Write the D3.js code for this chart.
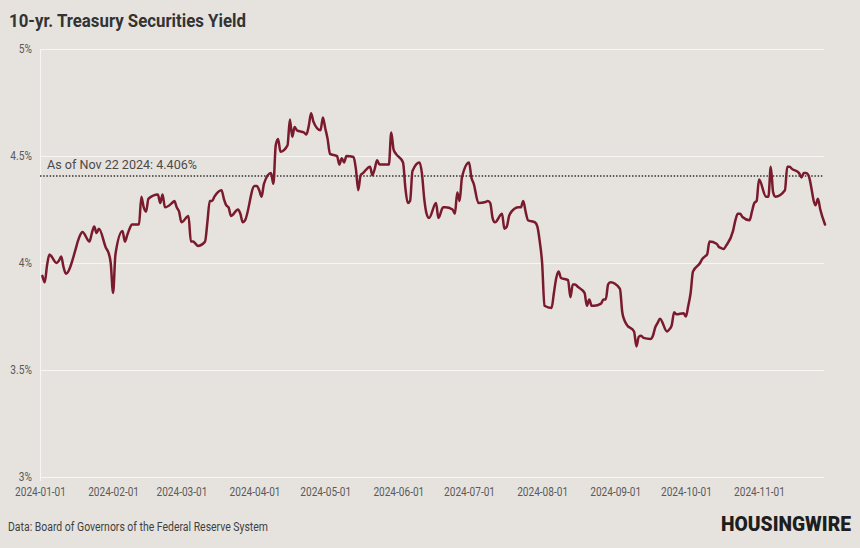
<!DOCTYPE html>
<html>
<head>
<meta charset="utf-8">
<script src="https://cdn.jsdelivr.net/npm/d3@7"></script>
<style>
  html, body { margin: 0; padding: 0; background: #e6e3df; }
  svg { display: block; font-family: Roboto, "Noto Sans", sans-serif; }
</style>
</head>
<body>
<svg id="chart" width="860" height="548"></svg>
<script>
// ---- data ----
const dates = [
  "2024-01-02","2024-01-03","2024-01-04","2024-01-05","2024-01-08","2024-01-09","2024-01-10","2024-01-11","2024-01-12",
  "2024-01-16","2024-01-17","2024-01-18","2024-01-19","2024-01-22","2024-01-23","2024-01-24","2024-01-25","2024-01-26",
  "2024-01-29","2024-01-30","2024-01-31","2024-02-01","2024-02-02","2024-02-05","2024-02-06","2024-02-07","2024-02-08",
  "2024-02-09","2024-02-12","2024-02-13","2024-02-14","2024-02-15","2024-02-16","2024-02-20","2024-02-21","2024-02-22",
  "2024-02-23","2024-02-26","2024-02-27","2024-02-28","2024-02-29","2024-03-01","2024-03-04","2024-03-05","2024-03-06",
  "2024-03-07","2024-03-08","2024-03-11","2024-03-12","2024-03-13","2024-03-14","2024-03-15","2024-03-18","2024-03-19",
  "2024-03-20","2024-03-21","2024-03-22","2024-03-25","2024-03-26","2024-03-27","2024-03-28","2024-04-01","2024-04-02",
  "2024-04-03","2024-04-04","2024-04-05","2024-04-08","2024-04-09","2024-04-10","2024-04-11","2024-04-12","2024-04-15",
  "2024-04-16","2024-04-17","2024-04-18","2024-04-19","2024-04-22","2024-04-23","2024-04-24","2024-04-25","2024-04-26",
  "2024-04-29","2024-04-30","2024-05-01","2024-05-02","2024-05-03","2024-05-06","2024-05-07","2024-05-08","2024-05-09",
  "2024-05-10","2024-05-13","2024-05-14","2024-05-15","2024-05-16","2024-05-17","2024-05-20","2024-05-21","2024-05-22",
  "2024-05-23","2024-05-24","2024-05-28","2024-05-29","2024-05-30","2024-05-31","2024-06-03","2024-06-04","2024-06-05",
  "2024-06-06","2024-06-07","2024-06-10","2024-06-11","2024-06-12","2024-06-13","2024-06-14","2024-06-17","2024-06-18",
  "2024-06-20","2024-06-21","2024-06-24","2024-06-25","2024-06-26","2024-06-27","2024-06-28","2024-07-01","2024-07-02",
  "2024-07-03","2024-07-05","2024-07-08","2024-07-09","2024-07-10","2024-07-11","2024-07-12","2024-07-15","2024-07-16",
  "2024-07-17","2024-07-18","2024-07-19","2024-07-22","2024-07-23","2024-07-24","2024-07-25","2024-07-26","2024-07-29",
  "2024-07-30","2024-07-31","2024-08-01","2024-08-02","2024-08-05","2024-08-06","2024-08-07","2024-08-08","2024-08-09",
  "2024-08-12","2024-08-13","2024-08-14","2024-08-15","2024-08-16","2024-08-19","2024-08-20","2024-08-21","2024-08-22",
  "2024-08-23","2024-08-26","2024-08-27","2024-08-28","2024-08-29","2024-08-30","2024-09-03","2024-09-04","2024-09-05",
  "2024-09-06","2024-09-09","2024-09-10","2024-09-11","2024-09-12","2024-09-13","2024-09-16","2024-09-17","2024-09-18",
  "2024-09-19","2024-09-20","2024-09-23","2024-09-24","2024-09-25","2024-09-26","2024-09-27","2024-09-30","2024-10-01",
  "2024-10-02","2024-10-03","2024-10-04","2024-10-07","2024-10-08","2024-10-09","2024-10-10","2024-10-11","2024-10-14",
  "2024-10-15","2024-10-16","2024-10-17","2024-10-18","2024-10-21","2024-10-22","2024-10-23","2024-10-24","2024-10-25",
  "2024-10-28","2024-10-29","2024-10-30","2024-10-31","2024-11-01","2024-11-04","2024-11-05","2024-11-06","2024-11-07",
  "2024-11-08","2024-11-12","2024-11-13","2024-11-14","2024-11-15","2024-11-18","2024-11-19","2024-11-20","2024-11-21",
  "2024-11-22","2024-11-25","2024-11-26","2024-11-27","2024-11-29"
];
const yields = [
  3.94,3.91,3.99,4.04,4.00,4.01,4.03,3.98,3.95,
  4.06,4.10,4.13,4.145,4.10,4.14,4.17,4.14,4.16,
  4.07,4.05,4.00,3.86,4.04,4.15,4.10,4.13,4.16,
  4.18,4.18,4.31,4.26,4.24,4.30,4.32,4.28,4.32,
  4.26,4.28,4.29,4.26,4.24,4.19,4.22,4.10,4.10,
  4.09,4.08,4.10,4.19,4.29,4.29,4.31,4.34,4.30,
  4.27,4.26,4.22,4.25,4.23,4.19,4.20,4.36,4.36,
  4.34,4.31,4.37,4.42,4.37,4.55,4.58,4.52,4.55,
  4.67,4.59,4.635,4.62,4.61,4.60,4.64,4.70,4.66,
  4.62,4.68,4.63,4.58,4.51,4.50,4.46,4.49,4.47,
  4.50,4.495,4.44,4.34,4.41,4.42,4.45,4.41,4.44,
  4.48,4.46,4.46,4.61,4.53,4.51,4.47,4.35,4.28,
  4.29,4.43,4.47,4.42,4.30,4.23,4.21,4.28,4.21,
  4.26,4.26,4.25,4.23,4.33,4.29,4.40,4.47,4.40,
  4.37,4.28,4.285,4.29,4.28,4.21,4.19,4.23,4.16,
  4.17,4.22,4.24,4.26,4.26,4.29,4.24,4.20,4.19,
  4.17,4.10,4.00,3.80,3.79,3.86,3.93,3.96,3.93,
  3.92,3.84,3.90,3.90,3.89,3.86,3.80,3.83,3.80,
  3.80,3.81,3.83,3.83,3.90,3.91,3.88,3.77,3.73,
  3.71,3.68,3.61,3.655,3.66,3.65,3.645,3.66,3.70,
  3.72,3.74,3.68,3.69,3.71,3.77,3.76,3.765,3.75,
  3.80,3.86,3.96,4.00,4.02,4.03,4.04,4.10,4.09,
  4.075,4.07,4.065,4.08,4.15,4.20,4.23,4.23,4.215,
  4.20,4.24,4.28,4.29,4.39,4.31,4.31,4.45,4.33,
  4.31,4.34,4.45,4.45,4.44,4.42,4.40,4.42,4.42,
  4.41,4.27,4.30,4.25,4.18
];
const yTicks = [3, 3.5, 4, 4.5, 5];
const yTickLabels = ["3%", "3.5%", "4%", "4.5%", "5%"];
const xTickLabels = ["2024-01-01","2024-02-01","2024-03-01","2024-04-01","2024-05-01","2024-06-01",
                     "2024-07-01","2024-08-01","2024-09-01","2024-10-01","2024-11-01"];
const xDomain = ["2024-01-01", "2024-11-29"];
const refValue = 4.406;
const refLabel = "As of Nov 22 2024: 4.406%";
const title = "10-yr. Treasury Securities Yield";
const source = "Data: Board of Governors of the Federal Reserve System";
const logo = "HOUSINGWIRE";

// ---- chart ----
const W = 860, H = 548;
const parse = d3.utcParse("%Y-%m-%d");
const data = dates.map((d, i) => ({ date: parse(d), value: yields[i] }));

const svg = d3.select("#chart");
svg.append("rect").attr("width", W).attr("height", H).attr("fill", "#e6e3df");

const x = d3.scaleUtc().domain(xDomain.map(parse)).range([40, 825]);
const y = d3.scaleLinear().domain([3, 5]).range([477, 49]);

function condense(sel, f) {
  sel.each(function () {
    const w = this.getComputedTextLength();
    d3.select(this).attr("textLength", w * f).attr("lengthAdjust", "spacingAndGlyphs");
  });
}

// gridlines
svg.append("g").selectAll("line").data(yTicks).join("line")
  .attr("x1", 40).attr("x2", 824)
  .attr("y1", d => Math.round(y(d)) + 0.5).attr("y2", d => Math.round(y(d)) + 0.5)
  .attr("stroke", "#f7f6f4").attr("stroke-width", 1);
// y axis line
svg.append("line").attr("x1", 40.5).attr("x2", 40.5).attr("y1", y(5)).attr("y2", y(3) + 4)
  .attr("stroke", "#f7f6f4").attr("stroke-width", 1);

// y axis
const yAxis = svg.append("g").attr("transform", "translate(40,0)")
  .call(d3.axisLeft(y).tickValues(yTicks).tickFormat((d, i) => yTickLabels[i]).tickSize(0).tickPadding(8));
yAxis.select(".domain").remove();
yAxis.selectAll("text").attr("fill", "#5a5a5a").attr("font-size", 12).attr("font-family", "Roboto");
condense(yAxis.selectAll("text"), 0.85);

// x axis
const xAxis = svg.append("g").attr("transform", "translate(0,477)")
  .call(d3.axisBottom(x).tickValues(xTickLabels.map(parse)).tickFormat(d3.utcFormat("%Y-%m-%d")).tickSize(0).tickPadding(10));
xAxis.select(".domain").remove();
xAxis.selectAll("text").attr("fill", "#5a5a5a").attr("font-size", 12).attr("font-family", "Roboto");
condense(xAxis.selectAll("text"), 0.84);

// reference line
svg.append("line").attr("x1", 40).attr("x2", 824)
  .attr("y1", y(refValue)).attr("y2", y(refValue))
  .attr("stroke", "#333").attr("stroke-width", 1.5).attr("stroke-dasharray", "1.5,1.7");
const ref = svg.append("text").attr("x", 47).attr("y", y(refValue) - 7)
  .attr("fill", "#4a4a4a").attr("font-size", 13.5).text(refLabel);
ref.attr("textLength", 150).attr("lengthAdjust", "spacingAndGlyphs");

// line
const line = d3.line().x(d => x(d.date)).y(d => y(d.value)).curve(d3.curveMonotoneX);
svg.append("path").datum(data).attr("d", line)
  .attr("fill", "none").attr("stroke", "#7a1a2d").attr("stroke-width", 2.5)
  .attr("stroke-linejoin", "round").attr("stroke-linecap", "round");

// title
svg.append("text").attr("x", 9).attr("y", 27).attr("fill", "#333")
  .attr("font-size", 18.5).attr("font-weight", 700).text(title)
  .attr("textLength", 237).attr("lengthAdjust", "spacingAndGlyphs");

// source
svg.append("text").attr("x", 8).attr("y", 531).attr("fill", "#3f3f3f")
  .attr("font-size", 12).text(source)
  .attr("textLength", 260).attr("lengthAdjust", "spacingAndGlyphs");

// logo
svg.append("text").attr("x", 721).attr("y", 531).attr("fill", "#1e1e1e")
  .attr("font-size", 19.5).attr("font-weight", 900).attr("font-family", "Roboto, 'Noto Sans'")
  .text(logo).attr("textLength", 130).attr("lengthAdjust", "spacingAndGlyphs");
</script>
</body>
</html>
